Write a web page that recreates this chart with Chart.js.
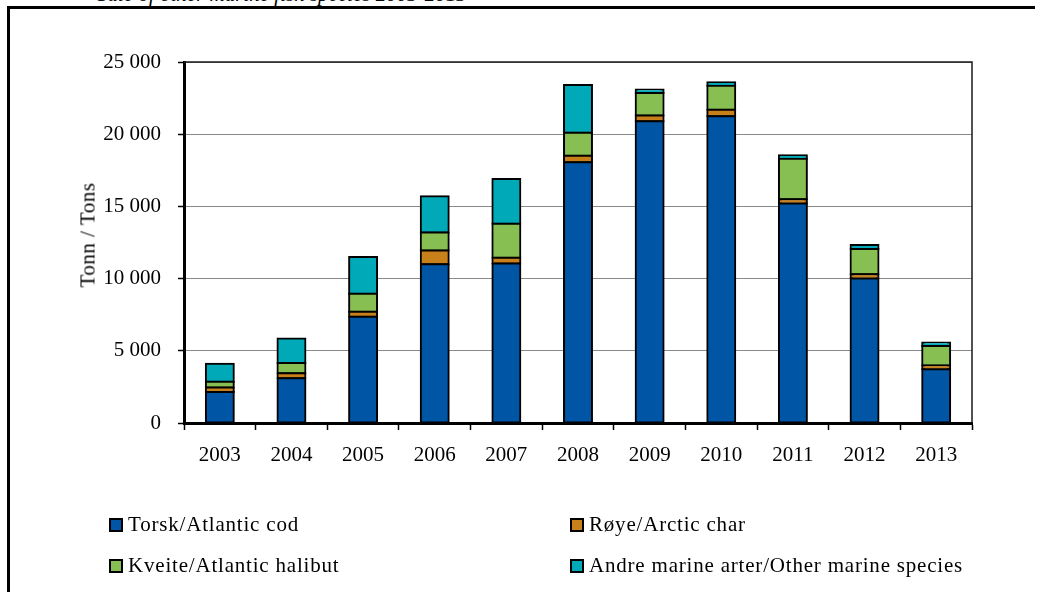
<!DOCTYPE html>
<html>
<head>
<meta charset="utf-8">
<script src="https://cdn.jsdelivr.net/npm/chart.js@4.4.1/dist/chart.umd.min.js"></script>
<style>
  html, body { margin: 0; padding: 0; background: #fff; }
  #wrap { position: relative; width: 1044px; height: 592px; overflow: hidden; font-family: "Liberation Serif", "DejaVu Serif", serif; color: #000; }
  #chart { position: absolute; left: 0; top: 0; }
  .frameTop { position: absolute; left: 7px; top: 6px; width: 1028px; height: 3px; background: #000; }
  .frameLeft { position: absolute; left: 7px; top: 6px; width: 3px; height: 600px; background: #000; }
  .topTitle { position: absolute; left: 97px; top: -16px; font-size: 21px; line-height: 21px; font-style: italic; white-space: nowrap; }
  .ytitle { position: absolute; left: 88px; top: 234.5px; font-size: 21px; line-height: 21px; letter-spacing: 0.5px; white-space: nowrap; transform: translate(-50%, -50%) rotate(-90deg); }
  .lgBox { position: absolute; width: 14px; height: 14px; box-sizing: border-box; border: 2px solid #000; }
  .lgText { position: absolute; font-size: 21px; line-height: 21px; letter-spacing: 0.8px; white-space: nowrap; }
</style>
</head>
<body>
<div id="wrap">
  <div class="topTitle">Sale of other marine fish species 2003-2013</div>
  <div class="frameTop"></div>
  <div class="frameLeft"></div>
  <canvas id="chart" width="1044" height="592"></canvas>
  <div class="ytitle" id="ytitle"></div>
  <div id="legend"></div>
</div>
<script>
// ---- data ----
const categories = ['2003', '2004', '2005', '2006', '2007', '2008', '2009', '2010', '2011', '2012', '2013'];
const torsk   = [2150, 3100, 7350, 11000, 11050, 18050, 20900, 21250, 15200, 10000, 3730];
const roye    = [300, 350, 350, 950, 400, 450, 400, 450, 300, 300, 250];
const kveite  = [400, 700, 1250, 1250, 2350, 1600, 1550, 1650, 2800, 1750, 1350];
const andre   = [1250, 1700, 2550, 2500, 3100, 3300, 250, 250, 250, 270, 250];
const seriesNames = ['Torsk/Atlantic cod', 'Røye/Arctic char', 'Kveite/Atlantic halibut', 'Andre marine arter/Other marine species'];
const yTicks = [0, 5000, 10000, 15000, 20000, 25000];
const yTitle = 'Tonn / Tons';

// ---- styles ----
const seriesColors = ['#0055a5', '#c8801b', '#88bf52', '#00a9b8'];
const FONT = { family: '"Liberation Serif", "DejaVu Serif", serif', size: 21 };

const seriesValues = [torsk, roye, kveite, andre];

document.getElementById('ytitle').textContent = yTitle;

// HTML legend (2 columns x 2 rows)
const legendCols = [109, 570];
const legendRows = [518, 559];
const legendEl = document.getElementById('legend');
seriesNames.forEach((name, i) => {
  const col = i % 2, row = Math.floor(i / 2);
  const box = document.createElement('div');
  box.className = 'lgBox';
  box.style.left = legendCols[col] + 'px';
  box.style.top = legendRows[row] + 'px';
  box.style.background = seriesColors[i];
  legendEl.appendChild(box);
  const t = document.createElement('div');
  t.className = 'lgText';
  t.style.left = (legendCols[col] + 19) + 'px';
  t.style.top = (legendRows[row] - 4.5) + 'px';
  t.textContent = name;
  legendEl.appendChild(t);
});

const plotFrame = {
  id: 'plotFrame',
  beforeDatasetsDraw(chart) {
    const { ctx, chartArea: a } = chart;
    ctx.save();
    ctx.strokeStyle = '#1a1a1a';
    ctx.lineWidth = 1.5;
    ctx.beginPath();
    ctx.moveTo(a.left, a.top);
    ctx.lineTo(a.right, a.top);
    ctx.lineTo(a.right, a.bottom);
    ctx.stroke();
    ctx.restore();
  }
};

function fmt(v) {
  return String(v).replace(/\B(?=(\d{3})+(?!\d))/g, ' ');
}

new Chart(document.getElementById('chart'), {
  type: 'bar',
  data: {
    labels: categories,
    datasets: seriesValues.map((vals, i) => ({
      label: seriesNames[i],
      data: vals,
      backgroundColor: seriesColors[i],
      borderColor: '#000',
      borderWidth: 2,
      borderSkipped: false,
      inflateAmount: 1,
      barPercentage: 0.39,
      categoryPercentage: 1.0
    }))
  },
  options: {
    responsive: false,
    animation: false,
    devicePixelRatio: 1,
    layout: { padding: { left: 72, right: 72, top: 62, bottom: 119 } },
    plugins: { legend: { display: false }, tooltip: { enabled: false }, title: { display: false } },
    scales: {
      x: {
        stacked: true,
        offset: true,
        grid: { display: true, offset: true, drawOnChartArea: false, drawTicks: true, tickLength: 7, tickColor: '#000', tickWidth: 1.5 },
        border: { display: true, color: '#000', width: 3 },
        ticks: { color: '#000', font: FONT, padding: 13, maxRotation: 0 },
        afterFit(scale) { scale.height = 50; }
      },
      y: {
        stacked: true,
        min: 0,
        max: 25000,
        afterBuildTicks(scale) { scale.ticks = yTicks.map(v => ({ value: v })); },
        grid: { color: '#8a8a8a', lineWidth: 1, drawTicks: true, tickLength: 6, tickColor: '#000', tickWidth: 1.5 },
        border: { display: true, color: '#000', width: 3 },
        ticks: { color: '#000', font: FONT, padding: 17, callback: (v) => fmt(v) },
        afterFit(scale) { scale.width = 112; }
      }
    }
  },
  plugins: [plotFrame]
});
</script>
</body>
</html>
